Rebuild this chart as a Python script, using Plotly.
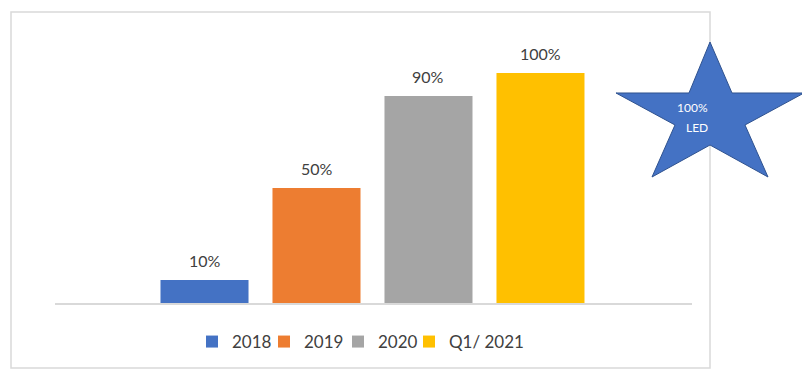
import plotly.graph_objects as go

# ---- data ----
series_names = ["2018", "2019", "2020", "Q1/ 2021"]
series_values = [0.10, 0.50, 0.90, 1.00]
series_labels = ["10%", "50%", "90%", "100%"]
series_colors = ["#4472C4", "#ED7D31", "#A5A5A5", "#FFC000"]
star_text_lines = ["100%", "LED"]

# ---- layout geometry (screenshot pixels; page body has an 8px margin) ----
OFF = 8
W_FIG, H_FIG = 810 - OFF, 382 - OFF
L, R_EDGE = 55 - OFF, 692 - OFF      # plot area left/right (figure px)
BASE = 303 - OFF                      # y=0 baseline (figure px)
Y_MAX = 1.2
PLOT_H = 276
TOP = BASE - PLOT_H
PLOT_W = R_EDGE - L
LEGEND_ITEM_PX = [192, 264, 338, 409]   # left edge of each legend entry (screenshot px)


def X(px):
    """screenshot px -> paper x"""
    return (px - OFF - L) / PLOT_W


def Y(py):
    """screenshot px -> paper y"""
    return (BASE - (py - OFF)) / PLOT_H


TEXT = "#404040"
FONT = "Lato, 'Liberation Sans', sans-serif"

fig = go.Figure()
legend_layout = {}
for i, (name, val, lab, col) in enumerate(zip(series_names, series_values, series_labels, series_colors)):
    lname = "legend" if i == 0 else f"legend{i + 1}"
    fig.add_trace(go.Bar(
        x=[i], y=[val], name=name, width=0.786,
        marker=dict(color=col, line=dict(width=0)),
        hoverinfo="skip",
        legend=lname,
    ))
    fig.add_annotation(
        x=i, y=val, xref="x", yref="y", text=lab, showarrow=False,
        yanchor="bottom", yshift=8, font=dict(size=16, color=TEXT, family=FONT),
    )
    legend_layout[lname] = dict(orientation="h", x=X(LEGEND_ITEM_PX[i]), xanchor="left",
                                yanchor="middle", y=Y(342),
                                font=dict(size=17, color=TEXT, family=FONT), itemwidth=30,
                                bgcolor="rgba(0,0,0,0)")

# outer border
fig.add_shape(type="rect", xref="paper", yref="paper",
              x0=X(11), x1=X(710), y0=Y(368), y1=Y(12),
              line=dict(color="#D9D9D9", width=1.5), fillcolor="rgba(0,0,0,0)", layer="above")

# star
pts = [(710, 42), (732, 93), (804, 93), (745, 125), (768, 177),
       (710, 145), (652, 177), (675, 125), (616, 93), (689, 93)]
path = "M " + " L ".join(f"{X(a):.5f},{Y(b):.5f}" for a, b in pts) + " Z"
fig.add_shape(type="path", xref="paper", yref="paper", path=path,
              fillcolor="#4472C4", line=dict(color="#2F528F", width=1), layer="above")
for line_txt, py in zip(star_text_lines, [108, 128]):
    fig.add_annotation(x=X(710), y=Y(py), xref="paper", yref="paper", text=line_txt,
                       showarrow=False, yanchor="middle",
                       font=dict(size=12, color="white", family=FONT))

fig.update_layout(
    width=W_FIG, height=H_FIG,
    margin=dict(l=L, r=W_FIG - R_EDGE, t=TOP, b=H_FIG - BASE),
    paper_bgcolor="white", plot_bgcolor="white",
    showlegend=True,
    xaxis=dict(range=[-1.335, 4.353], showticklabels=False, showgrid=False, zeroline=False,
               showline=True, linecolor="#D9D9D9", linewidth=1.5, fixedrange=True),
    yaxis=dict(range=[0, Y_MAX], visible=False, showgrid=False, zeroline=False, fixedrange=True),
    font=dict(family=FONT, color=TEXT),
    **legend_layout,
)

fig.write_html("out.html")
